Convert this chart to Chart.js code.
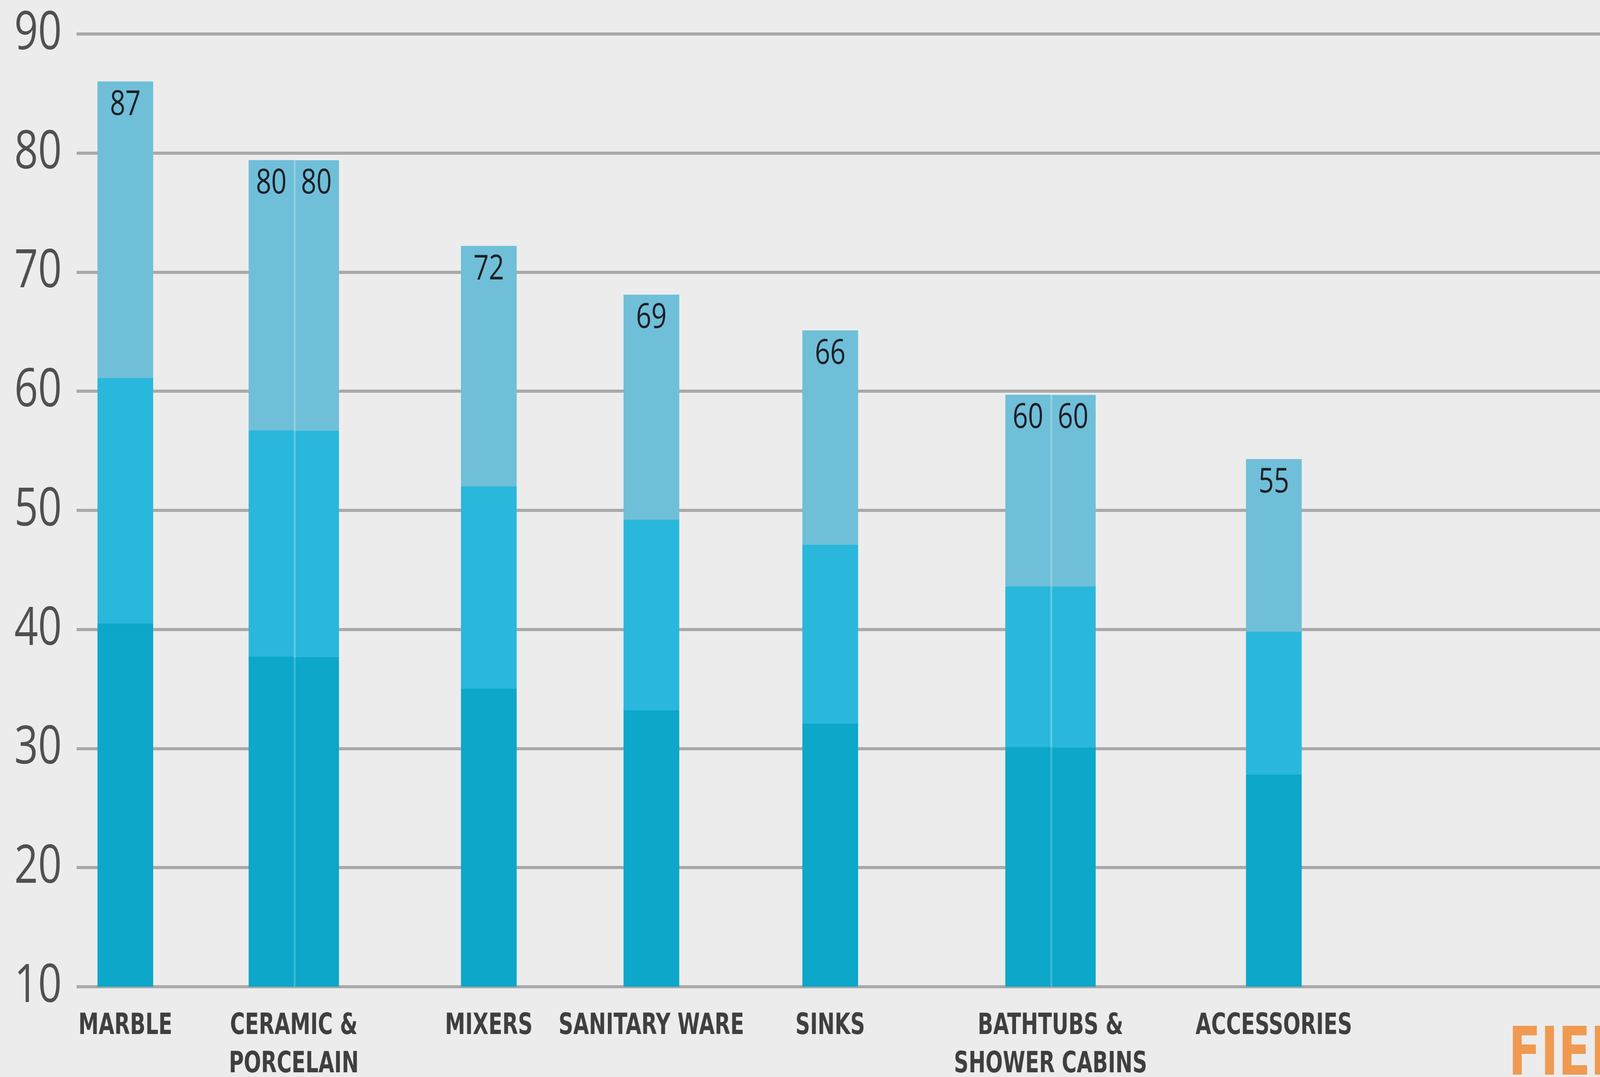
<!DOCTYPE html>
<html>
<head>
<meta charset="utf-8">
<script src="https://cdn.jsdelivr.net/npm/chart.js@4.4.1/dist/chart.umd.min.js"></script>
<style>
  html, body { margin: 0; padding: 0; background: #ececec; overflow: hidden; width: 100vw; height: 100vh; }
  #wrap { position: absolute; left: 0; top: 0; width: 5244px; height: 2756px; transform-origin: 0 0; overflow: hidden; }
  #logo {
    position: absolute; left: 4944px; top: 2605px;
    font: bold 172px "Liberation Sans Narrow", "DejaVu Sans Condensed", sans-serif;
    line-height: 1; color: #ef9a50; white-space: nowrap;
  }
</style>
</head>
<body>
<div id="wrap">
  <canvas id="chart" width="5244" height="2756"></canvas>
  <div id="logo">FIEL</div>
</div>
<script>
// ── Data ──────────────────────────────────────────────
const categories = [
  "MARBLE",
  ["CERAMIC &", "PORCELAIN"],
  "MIXERS",
  "SANITARY WARE",
  "SINKS",
  ["BATHTUBS &", "SHOWER CABINS"],
  "ACCESSORIES",
];
// where each group sits along the (0-100) horizontal axis
const categoryX = [3.2, 14.26, 27.06, 37.73, 49.47, 63.93, 78.59];
// groups drawn as two touching bars
const isSplit = [false, true, false, false, false, true, false];

// segment boundaries
const lowTop = [40.5, 37.7, 35.0, 33.2, 32.1, 30.1, 27.8];
const midTop = [61.1, 56.7, 52.0, 49.2, 47.1, 43.6, 39.8];
const barTop = [86.0, 79.4, 72.2, 68.1, 65.1, 59.7, 54.3];
// printed values
const totals = [87, 80, 72, 69, 66, 60, 55];

const yMin = 10;
const yMax = 90;
const yTickStep = 10;

// ── Fit the 5244x2756 drawing into whatever the window really is ──
const wrap = document.getElementById("wrap");
wrap.style.transform = `scale(${window.innerWidth / 5244}, ${window.innerHeight / 2756})`;

// ── Build bars ────────────────────────────────────────
const halfShift = 1.48;
const singles = [];
const halves = [];
categories.forEach((c, i) => {
  if (isSplit[i]) {
    halves.push({ i, x: categoryX[i] - halfShift, right: false });
    halves.push({ i, x: categoryX[i] + halfShift, right: true });
  } else {
    singles.push({ i, x: categoryX[i], right: false });
  }
});

const segments = [
  { color: "#0ca7c9", edge: "#3fbcd9", range: (i) => [yMin, lowTop[i]] },
  { color: "#2ab7dc", edge: "#64cbea", range: (i) => [lowTop[i], midTop[i]] },
  { color: "#70bfd8", edge: "#92d1e4", range: (i) => [midTop[i], barTop[i]] },
];

function makeDatasets(bars, thickness) {
  return segments.map((seg, s) => ({
    data: bars.map((b) => ({ x: b.x, y: seg.range(b.i) })),
    backgroundColor: seg.color,
    borderColor: seg.edge,
    borderWidth: bars.map((b) => (b.right ? { left: 6, top: 0, right: 0, bottom: 0 } : 0)),
    borderSkipped: false,
    barThickness: thickness,
    stack: "bars",
    showTotals: s === segments.length - 1,
    totals: bars.map((b) => totals[b.i]),
  }));
}

// value printed inside the top of each bar
const totalsLabels = {
  id: "totalsLabels",
  afterDatasetsDraw(chart) {
    const ctx = chart.ctx;
    ctx.save();
    ctx.font = '88px "Open Sans"';
    ctx.fillStyle = "#1b1f27";
    ctx.textAlign = "center";
    ctx.textBaseline = "middle";
    chart.data.datasets.forEach((ds, di) => {
      if (!ds.showTotals) return;
      chart.getDatasetMeta(di).data.forEach((bar, n) => {
        ctx.fillText(ds.totals[n], bar.x, bar.y + 60);
      });
    });
    ctx.restore();
  },
};

new Chart(document.getElementById("chart"), {
  type: "bar",
  data: {
    datasets: [...makeDatasets(singles, 182), ...makeDatasets(halves, 148)],
  },
  options: {
    responsive: false,
    animation: false,
    layout: { padding: { top: 87, left: 47, right: 0, bottom: 0 } },
    plugins: {
      legend: { display: false },
      tooltip: { enabled: false },
    },
    scales: {
      x: {
        type: "linear",
        min: 0,
        max: 100,
        offset: false,
        stacked: true,
        grid: { display: false },
        border: { display: false },
        afterBuildTicks: (scale) => {
          scale.ticks = categoryX.map((v) => ({ value: v }));
        },
        afterFit: (scale) => {
          scale.height = 231;
        },
        ticks: {
          autoSkip: false,
          maxRotation: 0,
          minRotation: 0,
          padding: 45,
          color: "#3f3f3f",
          font: {
            family: '"Liberation Sans Narrow", "DejaVu Sans Condensed", sans-serif',
            size: 74,
            weight: "bold",
            lineHeight: 1.32,
          },
          callback: (value, index) => categories[index],
        },
      },
      y: {
        min: yMin,
        max: yMax,
        stacked: false,
        afterFit: (scale) => {
          scale.width = 204;
        },
        grid: { color: "#a9a9a9", lineWidth: 8, drawTicks: false },
        border: { display: false },
        ticks: {
          stepSize: yTickStep,
          padding: 0,
          crossAlign: "far",
          color: "#505050",
          font: { family: '"Open Sans"', size: 136 },
        },
      },
    },
  },
  plugins: [totalsLabels],
});
</script>
</body>
</html>
